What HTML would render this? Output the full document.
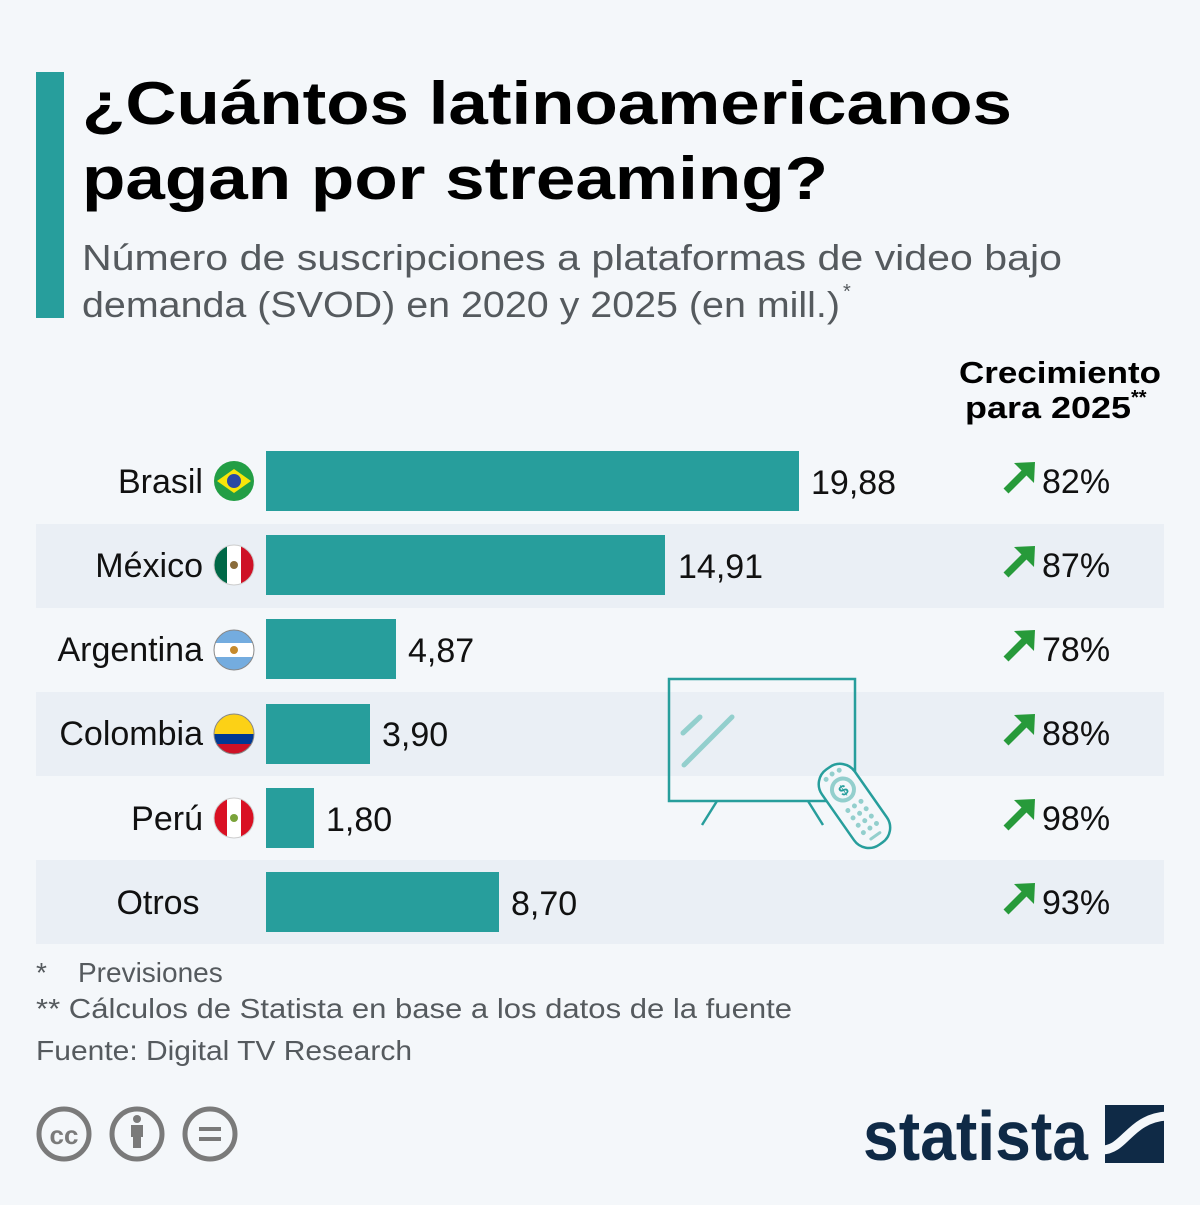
<!DOCTYPE html>
<html><head><meta charset="utf-8"><style>html,body{margin:0;padding:0;background:#f4f7fa}</style></head>
<body>
<svg width="1200" height="1200" viewBox="0 0 1200 1200" xmlns="http://www.w3.org/2000/svg" font-family="Liberation Sans, sans-serif">
<rect width="1200" height="1200" fill="#f4f7fa"/>
<rect x="36" y="72" width="28" height="246" fill="#279e9c"/>
<text x="82" y="124" font-size="60" font-weight="bold" fill="#000" textLength="930" lengthAdjust="spacingAndGlyphs">¿Cuántos latinoamericanos</text>
<text x="82" y="199" font-size="60" font-weight="bold" fill="#000" textLength="746" lengthAdjust="spacingAndGlyphs">pagan por streaming?</text>
<text x="82" y="270" font-size="36" fill="#555a5e" textLength="980" lengthAdjust="spacingAndGlyphs">Número de suscripciones a plataformas de video bajo</text>
<text x="82" y="317" font-size="36" fill="#555a5e" textLength="758" lengthAdjust="spacingAndGlyphs">demanda (SVOD) en 2020 y 2025 (en mill.)</text>
<text x="843" y="298" font-size="20" fill="#555a5e">*</text>
<text x="1060" y="383" font-size="31" font-weight="bold" fill="#000" text-anchor="middle" textLength="202" lengthAdjust="spacingAndGlyphs">Crecimiento</text>
<text x="965" y="418" font-size="31" font-weight="bold" fill="#000" textLength="166" lengthAdjust="spacingAndGlyphs">para 2025</text>
<text x="1131" y="404" font-size="20" font-weight="bold" fill="#000">**</text>
<g fill="#eaeff5">
<rect x="36" y="524" width="1128" height="84"/>
<rect x="36" y="692" width="1128" height="84"/>
<rect x="36" y="860" width="1128" height="84"/>
</g>
<!-- TV -->
<g fill="none" stroke="#279e9c" stroke-width="2.5">
<rect x="669" y="679" width="186" height="122"/>
<line x1="717" y1="801" x2="702" y2="825"/>
<line x1="808" y1="801" x2="823" y2="825"/>
</g>
<g stroke="#93cfcd" stroke-width="5" stroke-linecap="round">
<line x1="683" y1="733" x2="700" y2="717"/>
<line x1="684" y1="765" x2="732" y2="717"/>
</g>
<g transform="translate(851,801) rotate(-35)">
<rect x="-20" y="-40" width="40" height="92" rx="18" fill="#f4f7fa" stroke="#279e9c" stroke-width="2.5"/>
<circle cx="0" cy="-14" r="11" fill="none" stroke="#93cfcd" stroke-width="4"/>
<text x="0" y="-8" font-size="15" text-anchor="middle" fill="#279e9c" font-weight="bold">$</text>
<g fill="#93cfcd"><circle cx="-8" cy="-32" r="2.5"/><circle cx="0" cy="-33" r="2.5"/><circle cx="8" cy="-32" r="2.5"/>
<circle cx="-8" cy="6" r="2.5"/><circle cx="0" cy="6" r="2.5"/><circle cx="8" cy="6" r="2.5"/>
<circle cx="-8" cy="15" r="2.5"/><circle cx="0" cy="15" r="2.5"/><circle cx="8" cy="15" r="2.5"/>
<circle cx="-8" cy="24" r="2.5"/><circle cx="0" cy="24" r="2.5"/><circle cx="8" cy="24" r="2.5"/>
<circle cx="-8" cy="33" r="2.5"/><circle cx="0" cy="33" r="2.5"/><circle cx="8" cy="33" r="2.5"/>
<rect x="-7" y="41" width="14" height="3" rx="1.5"/></g>
</g>
<!-- bars -->
<g fill="#279e9c">
<rect x="266" y="451" width="533" height="60"/>
<rect x="266" y="535" width="399" height="60"/>
<rect x="266" y="619" width="130" height="60"/>
<rect x="266" y="704" width="104" height="60"/>
<rect x="266" y="788" width="48" height="60"/>
<rect x="266" y="872" width="233" height="60"/>
</g>
<g font-size="34" fill="#111">
<text x="811" y="494">19,88</text>
<text x="678" y="578">14,91</text>
<text x="408" y="662">4,87</text>
<text x="382" y="746">3,90</text>
<text x="326" y="831">1,80</text>
<text x="511" y="915">8,70</text>
<g text-anchor="end">
<text x="203" y="493">Brasil</text>
<text x="203" y="577">México</text>
<text x="203" y="661">Argentina</text>
<text x="203" y="745">Colombia</text>
<text x="203" y="830">Perú</text>
</g>
<text x="158" y="914" text-anchor="middle">Otros</text>
<g>
<text x="1042" y="493">82%</text>
<text x="1042" y="577">87%</text>
<text x="1042" y="661">78%</text>
<text x="1042" y="745">88%</text>
<text x="1042" y="830">98%</text>
<text x="1042" y="914">93%</text>
</g>
</g>
<!-- arrows -->
<defs>
<g id="ar"><path d="M0,0 L22,-22" stroke="#279a3a" stroke-width="7"/><path d="M8,-28 L29,-29 L28,-8 Z" fill="#279a3a"/></g>
<clipPath id="c"><circle r="20"/></clipPath>
</defs>
<use href="#ar" x="1006" y="491"/><use href="#ar" x="1006" y="575"/><use href="#ar" x="1006" y="659"/>
<use href="#ar" x="1006" y="743"/><use href="#ar" x="1006" y="828"/><use href="#ar" x="1006" y="912"/>
<!-- flags -->
<g transform="translate(234,481)" clip-path="url(#c)"><rect x="-20" y="-20" width="40" height="40" fill="#229e45"/><path d="M-17,0 L0,-12 L17,0 L0,12Z" fill="#f8e509"/><circle r="7" fill="#2b49a3"/></g>
<g transform="translate(234,565)" clip-path="url(#c)"><rect x="-20" y="-20" width="14" height="40" fill="#006847"/><rect x="-7" y="-20" width="14" height="40" fill="#fff"/><rect x="7" y="-20" width="14" height="40" fill="#ce1126"/><circle r="4" fill="#8a6b3a"/></g>
<g transform="translate(234,650)" clip-path="url(#c)"><rect x="-20" y="-20" width="40" height="40" fill="#74acdf"/><rect x="-20" y="-7" width="40" height="14" fill="#fff"/><circle r="4" fill="#c68a2c"/></g>
<g transform="translate(234,734)" clip-path="url(#c)"><rect x="-20" y="-20" width="40" height="20" fill="#fcd116"/><rect x="-20" y="0" width="40" height="10" fill="#003893"/><rect x="-20" y="10" width="40" height="10" fill="#ce1126"/></g>
<g transform="translate(234,818)" clip-path="url(#c)"><rect x="-20" y="-20" width="14" height="40" fill="#d91023"/><rect x="-7" y="-20" width="14" height="40" fill="#fff"/><rect x="7" y="-20" width="14" height="40" fill="#d91023"/><circle r="4" fill="#7aa33a"/></g>
<g fill="none" stroke="#888" stroke-width="1"><circle cx="234" cy="650" r="20"/><circle cx="234" cy="734" r="20"/><circle cx="234" cy="565" r="20" stroke="#ccc"/><circle cx="234" cy="818" r="20" stroke="#ccc"/></g>
<!-- footnotes -->
<g font-size="28" fill="#555a5e">
<text x="36" y="982">*</text><text x="78" y="982">Previsiones</text>
<text x="36" y="1018" textLength="756" lengthAdjust="spacingAndGlyphs">** Cálculos de Statista en base a los datos de la fuente</text>
<text x="36" y="1060" textLength="376" lengthAdjust="spacingAndGlyphs">Fuente: Digital TV Research</text>
</g>
<!-- CC icons -->
<g fill="none" stroke="#7a7a7a" stroke-width="5">
<circle cx="64" cy="1134" r="25"/><circle cx="137" cy="1134" r="25"/><circle cx="210" cy="1134" r="25"/>
</g>
<text x="64" y="1144" font-size="26" font-weight="bold" fill="#7a7a7a" text-anchor="middle">cc</text>
<g fill="#7a7a7a"><circle cx="137" cy="1119" r="4"/><rect x="131" y="1125" width="12" height="12"/><rect x="133" y="1135" width="8" height="13"/>
<rect x="199" y="1127" width="22" height="4"/><rect x="199" y="1137" width="22" height="4"/></g>
<!-- statista logo -->
<text x="863" y="1160" font-size="70" font-weight="bold" fill="#0f2a46" textLength="225" lengthAdjust="spacingAndGlyphs">statista</text>
<rect x="1105" y="1105" width="59" height="58" fill="#0f2a46"/>
<path d="M1102,1150 C1125,1150 1130,1118 1167,1116" stroke="#f4f7fa" stroke-width="9" fill="none"/>
</svg>
</body></html>
